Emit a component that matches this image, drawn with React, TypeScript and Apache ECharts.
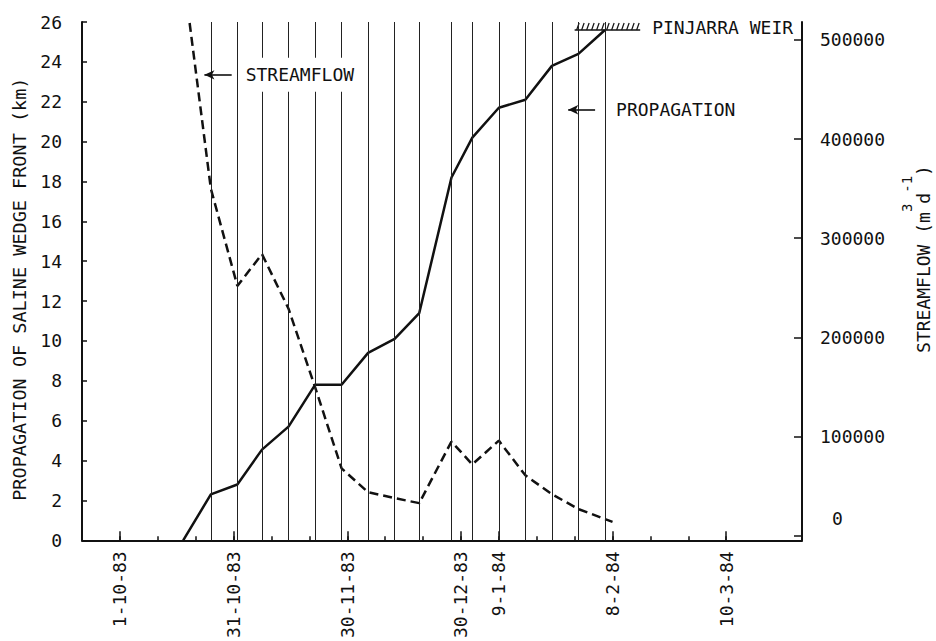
import React, { useEffect, useRef } from 'react';
import * as echarts from 'echarts';

// Days are counted from 1-10-83; the axis runs in 10-day steps.
const tickDays = [0, 30, 60, 90, 100, 130, 160];
const tickLabels = ['1-10-83', '31-10-83', '30-11-83', '30-12-83', '9-1-84', '8-2-84', '10-3-84'];
const minorTickDays = [0, 10, 20, 30, 40, 50, 60, 70, 80, 90, 100, 110, 120, 130, 140, 150, 160];
const flowTicks = [0, 100000, 200000, 300000, 400000, 500000];

// Weekly survey dates (vertical lines)
const samplingDays = [24, 31, 37.5, 44.5, 51.5, 58.5, 65.5, 72.5, 79, 87.5, 93, 100, 107, 114, 121, 128];

// Saline wedge front position (km) at each survey
const propagationStart = [16.7, 0];
const propagationKm = [2.3, 2.8, 4.55, 5.7, 7.8, 7.8, 9.4, 10.1, 11.4, 18.2, 20.2, 21.7, 22.1, 23.8, 24.4, 25.6];

// Streamflow (m3/d)
const flowStart = [18.4, 517000];
const flowValues = [350000, 252000, 284000, 229000, 150000, 68000, 44000, 38000, 33000, 95000, 72000, 96000, 61000, 42000, 27000];
const flowEnd = [130, 14000];

// Pinjarra Weir
const weirStartDay = 120;
const weirEndDay = 137.3;
const weirKm = 25.6;

// Annotation arrows: [tail day, head day, km]
const streamflowArrow = [29.5, 22.3, 23.35];
const propagationArrow = [125.4, 118.3, 21.6];

const FONT = 'DejaVu Sans Mono';
const INK = '#111';

export default function App() {
  const ref = useRef<HTMLDivElement>(null);

  useEffect(() => {
    if (!ref.current) return;
    const chart = echarts.init(ref.current, undefined, { renderer: 'svg' });

    const propagationData = [propagationStart, ...samplingDays.map((d, i) => [d, propagationKm[i]])];
    const flowData = [flowStart, ...flowValues.map((v, i) => [samplingDays[i], v]), flowEnd];

    const textBase = { fontFamily: FONT, fontSize: 18, color: INK };

    const arrowItem = (a: number[], text: string, distance: number, bg: boolean) => [
      {
        coord: [a[0], a[2]],
        symbol: 'none',
        lineStyle: { type: 'solid', width: 1.6, color: INK },
        label: {
          show: true,
          position: 'start',
          formatter: text,
          distance,
          ...textBase,
          ...(bg ? { backgroundColor: '#fff', padding: [8, 3] } : {}),
        },
      },
      { coord: [a[1], a[2]], symbol: 'arrow', symbolSize: [7, 10] },
    ];

    const option: any = {
      animation: false,
      backgroundColor: '#fff',
      grid: { left: 82, right: 134, top: 22, bottom: 99, containLabel: false },
      xAxis: [
        {
          type: 'value',
          min: -10,
          max: 180,
          interval: 10,
          axisLine: { show: true, onZero: false, lineStyle: { color: INK, width: 2 } },
          axisTick: { show: true, inside: true, length: 4, customValues: minorTickDays, lineStyle: { color: INK, width: 1.5 } },
          axisLabel: {
            show: true,
            rotate: 90,
            margin: 11,
            customValues: tickDays,
            formatter: (v: number) => {
              const i = tickDays.indexOf(v);
              return i >= 0 ? tickLabels[i] : '';
            },
            ...textBase,
          },
          splitLine: { show: false },
        },
        {
          type: 'value',
          min: -10,
          max: 180,
          interval: 10,
          position: 'bottom',
          axisLine: { show: false, onZero: false },
          axisTick: { show: true, inside: true, length: 9, customValues: tickDays, lineStyle: { color: INK, width: 1.5 } },
          axisLabel: { show: false },
          splitLine: { show: false },
        },
      ],
      yAxis: [
        {
          type: 'value',
          min: 0,
          max: 26,
          interval: 2,
          position: 'left',
          name: 'PROPAGATION OF SALINE WEDGE FRONT (km)',
          nameLocation: 'middle',
          nameRotate: 90,
          nameGap: 52,
          nameTextStyle: { ...textBase, fontSize: 18.5, padding: [0, 16, 0, 0] },
          axisLine: { show: true, onZero: false, lineStyle: { color: INK, width: 2 } },
          axisTick: { show: true, inside: true, length: 5, lineStyle: { color: INK, width: 1.5 } },
          axisLabel: { margin: 20, ...textBase },
          splitLine: { show: false },
        },
        {
          type: 'value',
          min: -4500,
          max: 518000,
          position: 'right',
          axisLine: { show: true, onZero: false, lineStyle: { color: INK, width: 2 } },
          axisTick: { show: true, inside: true, length: 8, customValues: flowTicks, lineStyle: { color: INK, width: 1.5 } },
          axisLabel: {
            margin: 18,
            customValues: flowTicks,
            formatter: (v: number) => (v === 0 ? '{z|0}' : String(v)),
            rich: { z: { ...textBase, padding: [0, 0, 34, 12] } },
            ...textBase,
          },
          splitLine: { show: false },
        },
      ],
      series: [
        {
          name: 'PROPAGATION',
          type: 'line',
          xAxisIndex: 0,
          yAxisIndex: 0,
          data: propagationData,
          symbol: 'none',
          lineStyle: { color: INK, width: 2.5 },
          z: 3,
          markLine: {
            silent: true,
            symbol: ['none', 'none'],
            label: { show: false },
            emphasis: { disabled: true },
            lineStyle: { type: 'solid', color: '#222', width: 1 },
            data: [
              ...samplingDays.map((d) => ({ xAxis: d })),
              arrowItem(streamflowArrow, 'STREAMFLOW', 11, true),
              arrowItem(propagationArrow, 'PROPAGATION', 21, false),
            ],
          },
        },
        {
          name: 'STREAMFLOW',
          type: 'line',
          xAxisIndex: 0,
          yAxisIndex: 1,
          data: flowData,
          symbol: 'none',
          clip: true,
          lineStyle: { color: INK, width: 2.5, type: [9, 5] },
          z: 4,
        },
        {
          name: 'PINJARRA WEIR',
          type: 'custom',
          xAxisIndex: 0,
          yAxisIndex: 0,
          encode: { x: [0, 1], y: 2 },
          data: [[weirStartDay, weirEndDay, weirKm]],
          silent: true,
          renderItem: (_params: any, api: any) => {
            const a = api.coord([api.value(0), api.value(2)]);
            const b = api.coord([api.value(1), api.value(2)]);
            const children: any[] = [
              { type: 'line', shape: { x1: a[0], y1: a[1], x2: b[0], y2: b[1] }, style: { stroke: INK, lineWidth: 1.5 } },
            ];
            for (let x = a[0] + 2; x < b[0] - 1; x += 5) {
              children.push({
                type: 'line',
                shape: { x1: x, y1: a[1], x2: x + 2.5, y2: a[1] - 7 },
                style: { stroke: INK, lineWidth: 1.2 },
              });
            }
            children.push({
              type: 'text',
              x: b[0] + 12,
              y: a[1] - 2,
              style: { text: 'PINJARRA WEIR', fontFamily: FONT, fontSize: 18, fill: INK, align: 'left', verticalAlign: 'middle' },
            });
            return { type: 'group', children };
          },
        },
      ],
      graphic: [
        {
          type: 'text',
          x: 923,
          y: 259,
          rotation: Math.PI / 2,
          z: 100,
          style: {
            text: '{a|STREAMFLOW (m}{s|3}{a|d}{s|-1}{a|)}',
            align: 'center',
            verticalAlign: 'middle',
            rich: {
              a: { fontFamily: FONT, fontSize: 18, fill: INK, verticalAlign: 'middle' },
              s: { fontFamily: FONT, fontSize: 14, fill: INK, verticalAlign: 'middle', padding: [0, 0, 32, 0] },
            },
          },
        },
      ],
    };

    chart.setOption(option);
    return () => chart.dispose();
  }, []);

  return (
    <div
      ref={ref}
      style={{ position: 'fixed', left: 0, top: 0, width: 936, height: 641, background: '#fff' }}
    />
  );
}
